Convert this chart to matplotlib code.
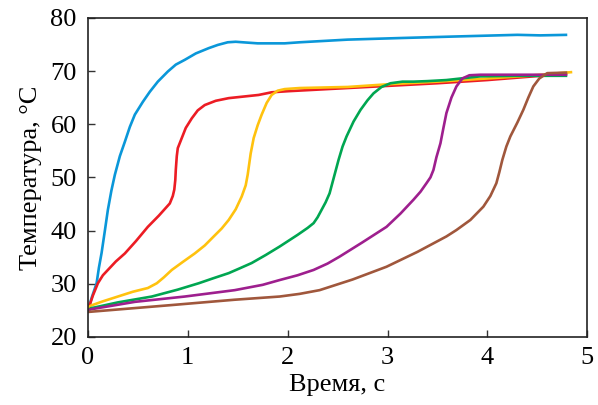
import matplotlib
matplotlib.use("Agg")
import matplotlib.pyplot as plt

plt.rcParams['font.family'] = ['Liberation Serif', 'DejaVu Serif']

# --- data ---
blue_t = [0, 0.04, 0.087, 0.11, 0.137, 0.17, 0.20, 0.235, 0.27, 0.32, 0.37, 0.42, 0.47, 0.55, 0.62, 0.70, 0.80, 0.88, 0.97, 1.08, 1.21, 1.30, 1.40, 1.48, 1.55, 1.70, 1.97, 2.12, 2.6, 3.13, 3.7, 4.30, 4.53, 4.80]
blue_T = [25.0, 27.5, 30.1, 33.0, 35.8, 40.0, 43.9, 47.5, 50.5, 54.0, 56.7, 59.5, 61.8, 64.2, 66.1, 68.0, 69.9, 71.2, 72.1, 73.3, 74.3, 74.9, 75.4, 75.5, 75.4, 75.2, 75.2, 75.4, 75.9, 76.2, 76.5, 76.8, 76.7, 76.8]

red_t = [0, 0.05, 0.10, 0.15, 0.20, 0.28, 0.37, 0.48, 0.60, 0.71, 0.82, 0.85, 0.865, 0.875, 0.88, 0.89, 0.90, 0.94, 0.98, 1.04, 1.10, 1.17, 1.28, 1.41, 1.71, 1.84, 2.0, 2.5, 3.0, 3.5, 4.0, 4.4, 4.8]
red_T = [25.0, 27.8, 30.1, 31.6, 32.6, 34.2, 35.7, 38.0, 40.7, 42.8, 45.1, 46.5, 47.7, 49.5, 51.4, 54.0, 55.5, 57.4, 59.3, 61.1, 62.6, 63.6, 64.4, 64.9, 65.5, 66.0, 66.2, 66.7, 67.2, 67.7, 68.3, 68.9, 69.5]

yellow_t = [0, 0.03, 0.15, 0.30, 0.45, 0.60, 0.69, 0.76, 0.84, 0.95, 1.07, 1.17, 1.26, 1.34, 1.41, 1.48, 1.54, 1.58, 1.60, 1.63, 1.66, 1.70, 1.74, 1.79, 1.84, 1.90, 1.97, 2.12, 2.6, 3.0, 3.5, 4.0, 4.4, 4.85]
yellow_T = [25.5, 25.9, 26.7, 27.6, 28.5, 29.2, 30.1, 31.2, 32.6, 34.1, 35.7, 37.2, 38.9, 40.4, 42.0, 44.0, 46.4, 48.5, 50.5, 54.5, 57.4, 59.8, 61.8, 64.0, 65.5, 66.3, 66.6, 66.8, 67.0, 67.5, 68.0, 68.6, 69.1, 69.8]

green_t = [0, 0.03, 0.30, 0.64, 0.90, 1.11, 1.25, 1.41, 1.52, 1.64, 1.78, 1.92, 2.10, 2.20, 2.26, 2.30, 2.34, 2.38, 2.42, 2.46, 2.51, 2.55, 2.59, 2.66, 2.73, 2.80, 2.86, 2.94, 3.03, 3.15, 3.26, 3.40, 3.59, 3.93, 4.3, 4.8]
green_T = [25.0, 25.4, 26.5, 27.6, 28.9, 30.1, 31.0, 32.0, 32.9, 33.9, 35.4, 37.0, 39.2, 40.5, 41.4, 42.5, 43.9, 45.3, 47.0, 49.8, 53.3, 55.8, 57.7, 60.5, 62.7, 64.5, 65.8, 67.0, 67.7, 68.0, 68.0, 68.1, 68.3, 69.0, 69.1, 69.1]

purple_t = [0, 0.03, 0.47, 0.97, 1.47, 1.75, 1.92, 2.10, 2.26, 2.40, 2.52, 2.75, 2.99, 3.13, 3.26, 3.33, 3.39, 3.43, 3.46, 3.49, 3.53, 3.56, 3.59, 3.64, 3.69, 3.75, 3.82, 3.93, 4.3, 4.8]
purple_T = [25.0, 25.2, 26.6, 27.6, 28.8, 29.8, 30.7, 31.6, 32.6, 33.8, 35.1, 37.8, 40.7, 43.2, 45.8, 47.3, 48.9, 50.0, 51.4, 53.8, 56.4, 59.3, 62.1, 65.0, 67.1, 68.6, 69.2, 69.3, 69.3, 69.3]

brown_t = [0, 0.84, 1.47, 1.92, 2.12, 2.32, 2.65, 2.99, 3.30, 3.59, 3.69, 3.83, 3.96, 4.03, 4.09, 4.12, 4.15, 4.19, 4.23, 4.30, 4.36, 4.41, 4.46, 4.52, 4.60, 4.80]
brown_T = [24.7, 26.0, 27.0, 27.6, 28.1, 28.8, 30.8, 33.2, 36.0, 38.9, 40.1, 42.0, 44.5, 46.5, 48.9, 51.0, 53.3, 55.8, 57.7, 60.3, 62.7, 65.0, 67.1, 68.6, 69.6, 69.7]

series = [
    (blue_t, blue_T, '#0a97d9'),
    (red_t, red_T, '#ec1c24'),
    (yellow_t, yellow_T, '#ffc20e'),
    (green_t, green_T, '#00a651'),
    (purple_t, purple_T, '#9e1f8e'),
    (brown_t, brown_T, '#a0573c'),
]

x_ticks = [0, 1, 2, 3, 4, 5]
y_ticks = [20, 30, 40, 50, 60, 70, 80]

fig = plt.figure(figsize=(5.98, 4.05), dpi=100)
ax = fig.add_axes([0.147, 0.168, 0.835, 0.788])

for t, T, c in series:
    ax.plot(t, T, color=c, lw=1.9, solid_capstyle='butt', solid_joinstyle='round')

ax.set_xlim(0, 5)
ax.set_ylim(20, 80)
ax.set_xticks(x_ticks)
ax.set_yticks(y_ticks)
ax.tick_params(direction='in', length=5, width=1.0, labelsize=19, color='#333333')
ax.tick_params(axis='x', pad=7)
ax.tick_params(axis='y', pad=8)
for s in ax.spines.values():
    s.set_linewidth(1.2)
    s.set_color('#222222')

ax.set_xlabel('Время, с', fontsize=19, labelpad=4)
ax.set_ylabel('Температура, °C', fontsize=19, labelpad=6)

fig.savefig('out.png', dpi=100)
